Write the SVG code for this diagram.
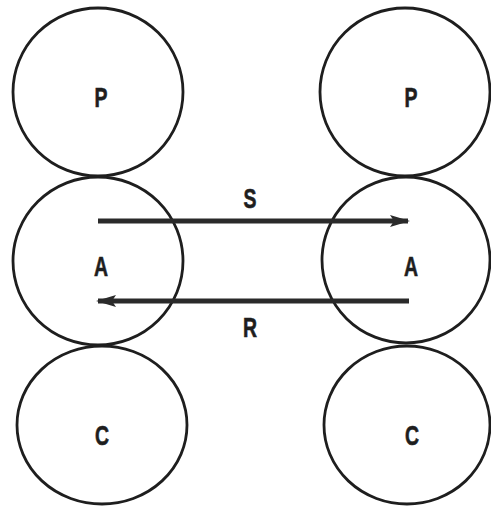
<svg xmlns="http://www.w3.org/2000/svg" width="491" height="519" viewBox="0 0 491 519">
<style>
.n{fill:none;stroke:#1e1e1e;stroke-width:2.8}
.t{font-family:"Liberation Sans",Arial,sans-serif;font-weight:bold;font-size:27px;fill:#1e1e1e;stroke:#1e1e1e;stroke-width:0.6;text-anchor:middle}
.c{stroke:#2a2a2a;stroke-width:5;fill:none}
</style>
<defs>
<marker id="ah" viewBox="0 0 20 12" refX="18" refY="6" markerWidth="20" markerHeight="12" markerUnits="userSpaceOnUse" orient="auto">
<path d="M0,0 L20,6 L0,12 L4,6 Z" fill="#2a2a2a"/>
</marker>
</defs>
<rect width="491" height="519" fill="#fff"/>
<g id="nodeLP"><ellipse class="n" cx="98" cy="92" rx="85" ry="84"/><text class="t" transform="translate(101,107) scale(0.72,1)">P</text></g>
<g id="nodeLA"><ellipse class="n" cx="98" cy="261" rx="85" ry="84"/><text class="t" transform="translate(101,276) scale(0.72,1)">A</text></g>
<g id="nodeLC"><ellipse class="n" cx="102" cy="425" rx="85" ry="79"/><text class="t" transform="translate(102,445) scale(0.72,1)">C</text></g>
<g id="nodeRP"><ellipse class="n" cx="405" cy="92" rx="85" ry="84"/><text class="t" transform="translate(411,107) scale(0.72,1)">P</text></g>
<g id="nodeRA"><ellipse class="n" cx="406" cy="260" rx="84" ry="83"/><text class="t" transform="translate(411,276) scale(0.72,1)">A</text></g>
<g id="nodeRC"><ellipse class="n" cx="407" cy="425" rx="83" ry="79"/><text class="t" transform="translate(412,445) scale(0.72,1)">C</text></g>
<g id="connectors">
<line class="c" x1="98" y1="221" x2="408" y2="221" marker-end="url(#ah)"/>
<text class="t" transform="translate(250,208) scale(0.72,1)">S</text>
<line class="c" x1="409" y1="301" x2="98" y2="301" marker-end="url(#ah)"/>
<text class="t" transform="translate(250,337) scale(0.72,1)">R</text>
</g>
</svg>
